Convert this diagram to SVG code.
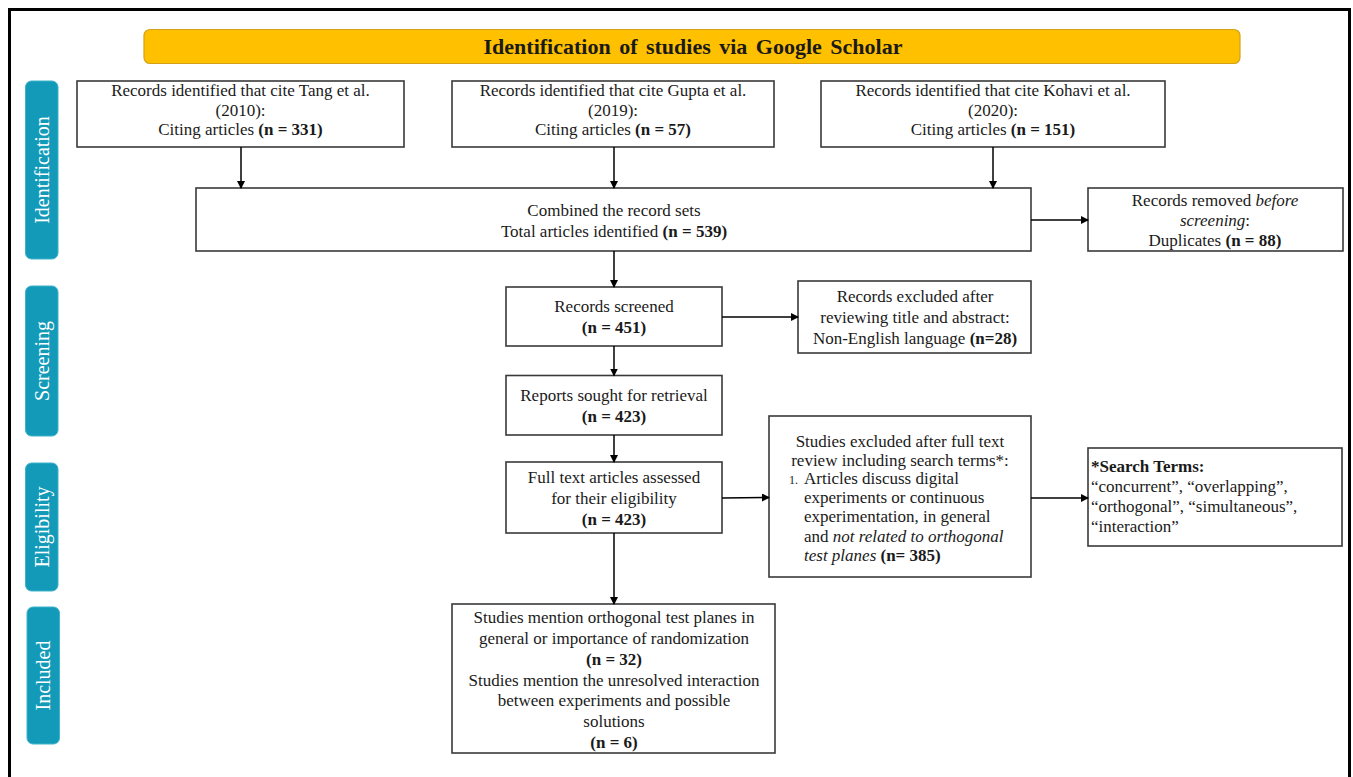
<svg xmlns="http://www.w3.org/2000/svg" width="1353" height="777" viewBox="0 0 1353 777">
<defs>
<marker id="ah" markerWidth="8" markerHeight="8" refX="7" refY="4" orient="auto" markerUnits="userSpaceOnUse">
<path d="M0,0 L8,4 L0,8 Z" fill="#000"/>
</marker>
<style>
.bx{fill:#fff;stroke:#3a3a3a;stroke-width:1.6}
.t{font-family:"Liberation Serif","Times New Roman",serif;font-size:17px;fill:#1a1a1a}
.c{text-anchor:middle}
.b{font-weight:bold}
.i{font-style:italic}
.lab{fill:#139AB8;stroke:#3FB3CC;stroke-width:1}
.lt{font-family:"Liberation Serif","Times New Roman",serif;font-size:20px;fill:#fff;text-anchor:middle}
.cn{stroke:#000;stroke-width:1.5;fill:none;marker-end:url(#ah)}
</style>
</defs>
<rect x="0" y="0" width="1353" height="777" fill="#fff"/>
<rect id="frame" x="9.5" y="9.5" width="1340" height="800" fill="none" stroke="#000" stroke-width="3"/>

<g id="title">
<rect x="144" y="29.5" width="1096" height="34" rx="6" fill="#FFC000" stroke="#D4A017" stroke-width="1.2"/>
<text class="t c b" x="693" y="54" style="font-size:22px;word-spacing:3px">Identification of studies via Google Scholar</text>
</g>

<g id="label-identification">
<rect class="lab" x="25.5" y="81" width="32.5" height="178" rx="6"/>
<text class="lt" transform="translate(41.7,170) rotate(-90)" y="7">Identification</text>
</g>
<g id="label-screening">
<rect class="lab" x="25.5" y="286" width="32.5" height="150" rx="6"/>
<text class="lt" transform="translate(41.7,361) rotate(-90)" y="7">Screening</text>
</g>
<g id="label-eligibility">
<rect class="lab" x="25.5" y="463" width="32.5" height="128" rx="6"/>
<text class="lt" transform="translate(41.7,527) rotate(-90)" y="7">Eligibility</text>
</g>
<g id="label-included">
<rect class="lab" x="27" y="607" width="32.5" height="137" rx="6"/>
<text class="lt" transform="translate(43.2,675.5) rotate(-90)" y="7">Included</text>
</g>

<g id="tang">
<rect class="bx" x="77" y="81" width="327" height="66"/>
<text class="t c" x="240.5" y="96">Records identified that cite Tang et al.</text>
<text class="t c" x="240.5" y="116">(2010):</text>
<text class="t c" x="240.5" y="135">Citing articles <tspan class="b">(n = 331)</tspan></text>
</g>
<g id="gupta">
<rect class="bx" x="452" y="81" width="322" height="66"/>
<text class="t c" x="613" y="96">Records identified that cite Gupta et al.</text>
<text class="t c" x="613" y="116">(2019):</text>
<text class="t c" x="613" y="135">Citing articles <tspan class="b">(n = 57)</tspan></text>
</g>
<g id="kohavi">
<rect class="bx" x="821" y="81" width="344" height="66"/>
<text class="t c" x="993" y="96">Records identified that cite Kohavi et al.</text>
<text class="t c" x="993" y="116">(2020):</text>
<text class="t c" x="993" y="135">Citing articles <tspan class="b">(n = 151)</tspan></text>
</g>

<g id="combined">
<rect class="bx" x="196" y="188" width="835" height="63"/>
<text class="t c" x="614" y="216">Combined the record sets</text>
<text class="t c" x="614" y="237">Total articles identified <tspan class="b">(n = 539)</tspan></text>
</g>

<g id="removed">
<rect class="bx" x="1088" y="188" width="255" height="63"/>
<text class="t c" x="1215" y="206">Records removed <tspan class="i">before</tspan></text>
<text class="t c" x="1215" y="226"><tspan class="i">screening</tspan>:</text>
<text class="t c" x="1215" y="246">Duplicates <tspan class="b">(n = 88)</tspan></text>
</g>

<g id="screened">
<rect class="bx" x="506" y="287" width="216" height="59"/>
<text class="t c" x="614" y="312">Records screened</text>
<text class="t c b" x="614" y="333">(n = 451)</text>
</g>

<g id="excluded1">
<rect class="bx" x="798" y="281" width="233" height="72"/>
<text class="t c" x="915" y="302">Records excluded after</text>
<text class="t c" x="915" y="323">reviewing title and abstract:</text>
<text class="t c" x="915" y="344">Non-English language <tspan class="b">(n=28)</tspan></text>
</g>

<g id="sought">
<rect class="bx" x="506" y="375.5" width="216" height="59.5"/>
<text class="t c" x="614" y="401">Reports sought for retrieval</text>
<text class="t c b" x="614" y="422">(n = 423)</text>
</g>

<g id="fulltext">
<rect class="bx" x="506" y="462" width="216" height="71"/>
<text class="t c" x="614" y="483">Full text articles assessed</text>
<text class="t c" x="614" y="504">for their eligibility</text>
<text class="t c b" x="614" y="525">(n = 423)</text>
</g>

<g id="excluded2">
<rect class="bx" x="769" y="416" width="262" height="161"/>
<text class="t c" x="900" y="447">Studies excluded after full text</text>
<text class="t c" x="900" y="466">review including search terms*:</text>
<text class="t" x="789" y="484"><tspan style="font-size:12px">1.</tspan><tspan x="804">Articles discuss digital</tspan></text>
<text class="t" x="804" y="503">experiments or continuous</text>
<text class="t" x="804" y="522">experimentation, in general</text>
<text class="t" x="804" y="542">and <tspan class="i">not related to orthogonal</tspan></text>
<text class="t" x="804" y="561"><tspan class="i">test planes</tspan> <tspan class="b">(n= 385)</tspan></text>
</g>

<g id="searchterms">
<rect class="bx" x="1088" y="448" width="254" height="98"/>
<text class="t b" x="1091" y="472">*Search Terms:</text>
<text class="t" x="1091" y="492">“concurrent”, “overlapping”,</text>
<text class="t" x="1091" y="512">“orthogonal”, “simultaneous”,</text>
<text class="t" x="1091" y="532">“interaction”</text>
</g>

<g id="included">
<rect class="bx" x="452" y="604" width="323" height="149"/>
<text class="t c" x="614" y="623">Studies mention orthogonal test planes in</text>
<text class="t c" x="614" y="644">general or importance of randomization</text>
<text class="t c b" x="614" y="665">(n = 32)</text>
<text class="t c" x="614" y="686">Studies mention the unresolved interaction</text>
<text class="t c" x="614" y="706">between experiments and possible</text>
<text class="t c" x="614" y="727">solutions</text>
<text class="t c b" x="614" y="748">(n = 6)</text>
</g>

<g id="connectors">
<line class="cn" x1="241" y1="147" x2="241" y2="188"/>
<line class="cn" x1="614" y1="147" x2="614" y2="188"/>
<line class="cn" x1="993" y1="147" x2="993" y2="188"/>
<line class="cn" x1="1031" y1="220" x2="1088" y2="220"/>
<line class="cn" x1="614" y1="251" x2="614" y2="287"/>
<line class="cn" x1="722" y1="317" x2="798" y2="317"/>
<line class="cn" x1="614" y1="346" x2="614" y2="375.5"/>
<line class="cn" x1="614" y1="435" x2="614" y2="462"/>
<line class="cn" x1="722" y1="498" x2="769" y2="497.5"/>
<line class="cn" x1="1031" y1="498" x2="1088" y2="498"/>
<line class="cn" x1="614" y1="533" x2="614" y2="604"/>
</g>
</svg>
